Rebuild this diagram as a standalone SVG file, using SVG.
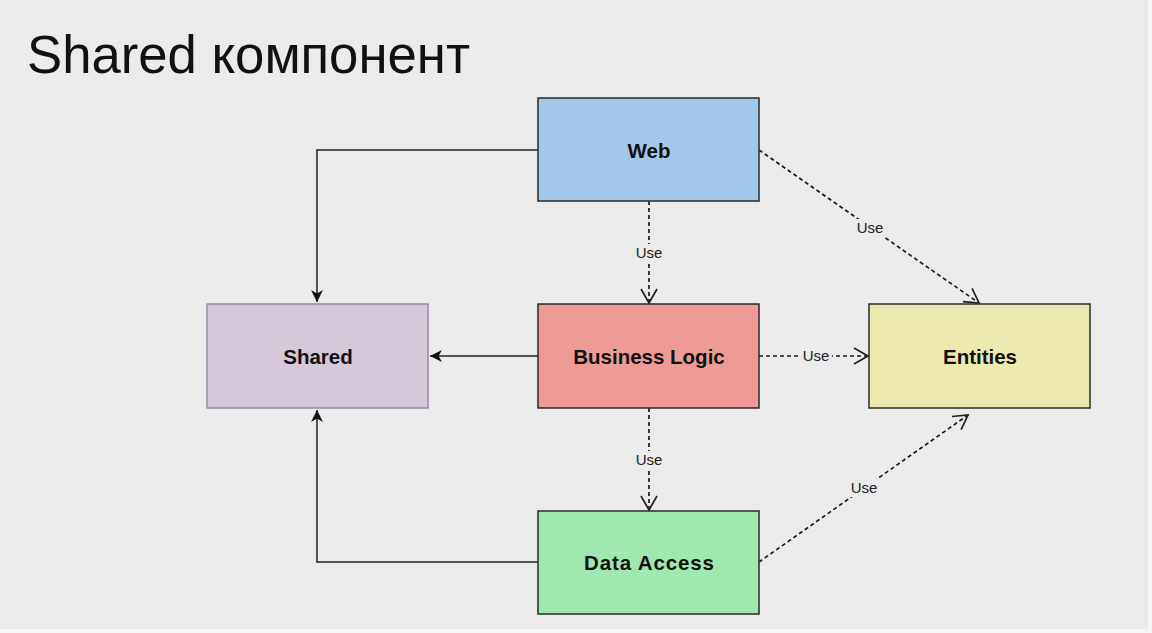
<svg xmlns="http://www.w3.org/2000/svg" width="1152" height="633" viewBox="0 0 1152 633">
<style>
.node rect{stroke:#2a2a2a;stroke-width:1.5}
.node text{font-family:"Liberation Sans",Arial,sans-serif;font-weight:bold;font-size:20.5px;fill:#111;text-anchor:middle}
.solid{fill:none;stroke:#222;stroke-width:1.5}
.dash{fill:none;stroke:#1a1a1a;stroke-width:1.7;stroke-dasharray:4 3}
.lbl text{font-family:"Liberation Sans",Arial,sans-serif;font-size:15px;fill:#222;text-anchor:middle}
.lbl rect{fill:#ebebeb}
</style>
<defs>
<marker id="fill" markerUnits="userSpaceOnUse" markerWidth="14" markerHeight="12" refX="12" refY="6" orient="auto">
<path d="M0,0 L12,6 L0,12 L3.5,6 Z" fill="#111"/>
</marker>
<marker id="open" markerUnits="userSpaceOnUse" markerWidth="18" markerHeight="20" refX="15" refY="9" orient="auto">
<path d="M1,1 L15,9 L1,17" fill="none" stroke="#222" stroke-width="1.7"/>
</marker>
</defs>
<rect width="1152" height="633" fill="#ebebeb"/>
<rect x="1148" y="0" width="4" height="633" fill="#f7f7f7"/>
<rect x="0" y="629" width="1152" height="4" fill="#f7f7f7"/>
<text x="27" y="73" font-family="Liberation Sans,Arial,sans-serif" font-size="54" fill="#111" textLength="443" lengthAdjust="spacingAndGlyphs">Shared компонент</text>
<g id="connectors">
<path class="solid" d="M538,150 H317 V302" marker-end="url(#fill)"/>
<path class="solid" d="M538,356 H430" marker-end="url(#fill)"/>
<path class="solid" d="M538,562 H317 V410" marker-end="url(#fill)"/>
<path class="dash" d="M649,201 V303" marker-end="url(#open)"/>
<path class="dash" d="M649,408 V510" marker-end="url(#open)"/>
<path class="dash" d="M759,356 H868" marker-end="url(#open)"/>
<path class="dash" d="M759,150 L979,303" marker-end="url(#open)"/>
<path class="dash" d="M759,562 L968,415" marker-end="url(#open)"/>
<g class="lbl">
<rect x="633" y="244" width="32" height="18"/><text x="649" y="258">Use</text>
<rect x="633" y="451" width="32" height="18"/><text x="649" y="465">Use</text>
<rect x="800" y="347" width="32" height="18"/><text x="816" y="361">Use</text>
<rect x="854" y="219" width="32" height="18"/><text x="870" y="233">Use</text>
<rect x="848" y="479" width="32" height="18"/><text x="864" y="493">Use</text>
</g>
</g>
<g id="web" class="node"><rect x="538" y="98" width="221" height="103" fill="#a3c8ea"/><text x="649" y="158">Web</text></g>
<g id="business-logic" class="node"><rect x="538" y="304" width="221" height="104" fill="#ee9b98"/><text x="649" y="364">Business Logic</text></g>
<g id="data-access" class="node"><rect x="538" y="511" width="221" height="103" fill="#9fe8b0"/><text x="649" y="570" textLength="130">Data Access</text></g>
<g id="shared" class="node"><rect x="207" y="304" width="221" height="104" fill="#d5c8d8" style="stroke:#9a88a6"/><text x="318" y="364">Shared</text></g>
<g id="entities" class="node"><rect x="869" y="304" width="221" height="104" fill="#ebe9ae"/><text x="980" y="364">Entities</text></g>
</svg>
